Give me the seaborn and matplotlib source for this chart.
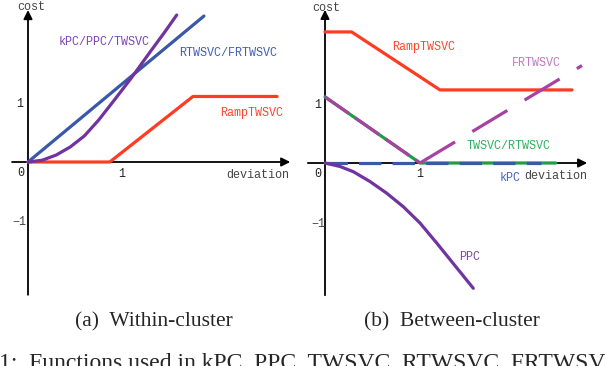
import matplotlib
matplotlib.use("Agg")
import matplotlib.pyplot as plt
import seaborn as sns

# ---- data (deviation, cost) ----
# (a) within-cluster
a_ramp_x = [0, 0.87, 1.755, 2.65]
a_ramp_y = [0, 0, 1.13, 1.13]
a_rtw_x = [0, 1.872]
a_rtw_y = [0, 2.517]
a_kpc_x = [0, 0.15, 0.3, 0.45, 0.6, 0.75, 0.9, 1.1, 1.3, 1.45, 1.582]
a_kpc_y = [0, 0.03, 0.12, 0.26, 0.45, 0.72, 1.03, 1.45, 1.9, 2.23, 2.534]

# (b) between-cluster
b_ramp_x = [0, 0.28, 1.21, 2.6]
b_ramp_y = [2.26, 2.26, 1.26, 1.26]
b_tw_x = [0, 1.0, 2.43]
b_tw_y = [1.14, 0, 0]
b_kpc_x = [0, 2.27]
b_kpc_y = [0, 0]
b_frtw_x = [0, 1.0, 2.705]
b_frtw_y = [1.14, 0, 1.68]
b_ppc_x = [0, 0.158, 0.298, 0.474, 0.649, 0.825, 1.0, 1.176, 1.351, 1.561]
b_ppc_y = [0, -0.06, -0.15, -0.32, -0.52, -0.755, -1.035, -1.38, -1.735, -2.16]

tick_text = ["0", "1", "\u22121"]

sns.set_style("white")
plt.rcParams["font.family"] = ["Liberation Mono", "DejaVu Sans"]

W, H = 606, 366
fig = plt.figure(figsize=(W / 100, H / 100), dpi=100)


def panel(px0, px1, ox, oy, ux, uy):
    # axes covering pixels px0..px1 horizontally and 5..300 vertically
    ax = fig.add_axes([px0 / W, 1 - 300 / H, (px1 - px0) / W, 295 / H])
    ax.set_xlim((px0 - ox) / ux, (px1 - ox) / ux)
    ax.set_ylim((oy - 300) / uy, (oy - 5) / uy)
    ax.axis("off")
    return ax


def arrows(ax, x0, x1, y0, y1):
    ap = dict(arrowstyle="-|>", color="black", lw=1.3, mutation_scale=13,
              shrinkA=0, shrinkB=0)
    ax.annotate("", xy=(x1, 0), xytext=(x0, 0), arrowprops=ap, zorder=1)
    ax.annotate("", xy=(0, y1), xytext=(0, y0), arrowprops=ap, zorder=1)


lab = dict(fontsize=8.5, ha="center", va="center")
LW = 2.3

# ---- (a) Within-cluster ----
ax1 = panel(5, 300, 28, 162, 94, 58)
arrows(ax1, -0.17, 2.79, -2.29, 2.62)
sns.lineplot(x=a_ramp_x, y=a_ramp_y, ax=ax1, color="#ff3b22", lw=LW,
             sort=False, estimator=None, zorder=3)
sns.lineplot(x=a_rtw_x, y=a_rtw_y, ax=ax1, color="#3a58a8", lw=LW,
             sort=False, estimator=None, zorder=3)
sns.lineplot(x=a_kpc_x, y=a_kpc_y, ax=ax1, color="#7033a0", lw=LW,
             sort=False, estimator=None, zorder=4)
ax1.text(0.032, 2.672, "cost", color="#444444", **lab)
ax1.text(0.809, 2.069, "kPC/PPC/TWSVC", color="#7d45b5", **lab)
ax1.text(2.128, 1.879, "RTWSVC/FRTWSVC", color="#3f5eb5", **lab)
ax1.text(2.383, 0.845, "RampTWSVC", color="#ff4433", **lab)
ax1.text(-0.085, 1.0, tick_text[1], color="#222222", **lab)
ax1.text(-0.074, -0.198, tick_text[0], color="#222222", **lab)
ax1.text(0.997, -0.207, tick_text[1], color="#222222", **lab)
ax1.text(2.441, -0.224, "deviation", color="#444444", **lab)
ax1.text(-0.096, -1.034, tick_text[2], color="#444444", **lab)

# ---- (b) Between-cluster ----
ax2 = panel(303, 600, 325, 163, 95, 58)
arrows(ax2, -0.18, 2.76, -2.28, 2.64)
sns.lineplot(x=b_ramp_x, y=b_ramp_y, ax=ax2, color="#ff3b22", lw=LW,
             sort=False, estimator=None, zorder=3)
sns.lineplot(x=b_tw_x, y=b_tw_y, ax=ax2, color="#1e9e48", lw=LW,
             sort=False, estimator=None, zorder=3)
sns.lineplot(x=b_kpc_x, y=b_kpc_y, ax=ax2, color="#3a58a8", lw=LW,
             sort=False, estimator=None, zorder=4, linestyle=(0, (7, 3.5)))
# FRTWSVC: falling branch densely dashed, rising branch with wide gaps
sns.lineplot(x=b_frtw_x[:2], y=b_frtw_y[:2], ax=ax2, color="#a742a5", lw=LW,
             sort=False, estimator=None, zorder=5, linestyle=(0, (9, 2.5)))
sns.lineplot(x=b_frtw_x[1:], y=b_frtw_y[1:], ax=ax2, color="#a742a5", lw=LW,
             sort=False, estimator=None, zorder=5, linestyle=(0, (12.8, 6.3)))
sns.lineplot(x=b_ppc_x, y=b_ppc_y, ax=ax2, color="#7033a0", lw=LW,
             sort=False, estimator=None, zorder=4)
ax2.text(0.018, 2.672, "cost", color="#444444", **lab)
ax2.text(1.042, 2.0, "RampTWSVC", color="#ff4433", **lab)
ax2.text(2.221, 1.724, "FRTWSVC", color="#c07ac0", **lab)
ax2.text(1.937, 0.293, "TWSVC/RTWSVC", color="#30b060", **lab)
ax2.text(1.947, -0.259, "kPC", color="#4a66c0", **lab)
ax2.text(2.428, -0.224, "deviation", color="#444444", **lab)
ax2.text(1.526, -1.621, "PPC", color="#7d45b5", **lab)
ax2.text(-0.074, 1.0, tick_text[1], color="#222222", **lab)
ax2.text(-0.081, -0.19, tick_text[0], color="#222222", **lab)
ax2.text(1.0, -0.19, tick_text[1], color="#222222", **lab)
ax2.text(-0.066, -1.052, tick_text[2], color="#444444", **lab)

# ---- captions ----
cap = dict(family="Liberation Serif", fontsize=15.5, ha="center", va="center")
fig.text(153.5 / W, 1 - 322 / H, "(a)  Within-cluster", **cap)
fig.text(451.5 / W, 1 - 322 / H, "(b)  Between-cluster", **cap)
fig.text(-1 / W, 1 - 353 / H, "1:  Functions used in kPC, PPC, TWSVC, RTWSVC, FRTWSVC",
         family="Liberation Serif", fontsize=17, ha="left", va="top")

fig.savefig("out.png", dpi=100)
